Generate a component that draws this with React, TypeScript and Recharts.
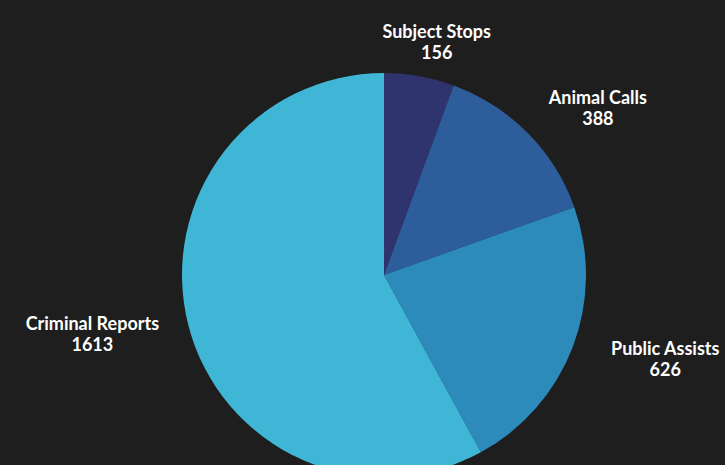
import { PieChart, Pie, Cell } from "recharts";

const categories = ["Subject Stops", "Animal Calls", "Public Assists", "Criminal Reports"];
const counts = [156, 388, 626, 1613];
const colors = ["#30346e", "#2d5e9b", "#2c8bbb", "#40b6d7"];

const data = categories.map((name, i) => ({ name, value: counts[i] }));

const RAD = Math.PI / 180;

type LabelProps = {
  cx?: number;
  cy?: number;
  midAngle?: number;
  outerRadius?: number;
  name?: string;
  value?: number;
};

function SliceLabel({ cx = 0, cy = 0, midAngle = 0, outerRadius = 0, name, value }: LabelProps) {
  // labels sit on an ellipse around the pie, wider than tall
  const x = cx + (outerRadius + 99) * Math.cos(-midAngle * RAD);
  const y = cy + (outerRadius + 35) * Math.sin(-midAngle * RAD);
  return (
    <text
      x={x}
      y={y}
      textAnchor="middle"
      fill="#ffffff"
      fontSize={18}
      fontWeight={700}
      fontFamily="Lato, 'Open Sans', sans-serif"
    >
      <tspan x={x} y={y - 11} dominantBaseline="central">
        {name}
      </tspan>
      <tspan x={x} y={y + 10} dominantBaseline="central">
        {value}
      </tspan>
    </text>
  );
}

export default function App() {
  return (
    <div
      style={{
        position: "absolute",
        top: 0,
        left: 0,
        width: 725,
        height: 465,
        background: "#1e1e1e",
        overflow: "hidden",
      }}
    >
      <PieChart width={725} height={465} margin={{ top: 0, right: 0, bottom: 0, left: 0 }}>
        <Pie
          data={data}
          dataKey="value"
          nameKey="name"
          cx={384}
          cy={275}
          outerRadius={202}
          startAngle={90}
          endAngle={-270}
          stroke="none"
          labelLine={false}
          label={<SliceLabel />}
          isAnimationActive={false}
        >
          {data.map((d, i) => (
            <Cell key={d.name} fill={colors[i]} />
          ))}
        </Pie>
      </PieChart>
    </div>
  );
}
